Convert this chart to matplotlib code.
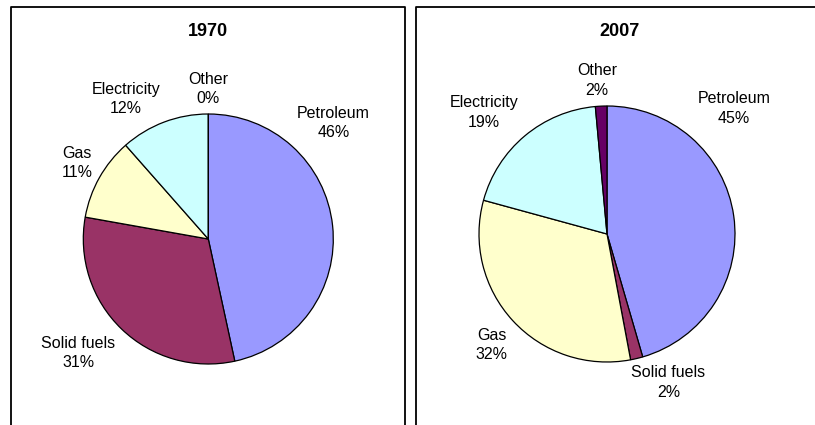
import matplotlib
matplotlib.use("Agg")
import matplotlib.pyplot as plt
from matplotlib.lines import Line2D

plt.rcParams['font.family'] = ['Liberation Sans', 'DejaVu Sans']

categories = ["Petroleum", "Solid fuels", "Gas", "Electricity", "Other"]
values_1970 = [46.6, 31.2, 10.7, 11.5, 0.0]
values_2007 = [45.5, 1.55, 32.2, 19.3, 1.45]
pct_1970 = ["46%", "31%", "11%", "12%", "0%"]
pct_2007 = ["45%", "2%", "32%", "19%", "2%"]
colors = ["#9999FF", "#993366", "#FFFFCC", "#CCFFFF", "#660066"]

# label positions in pie-radius units (Excel-like placement)
label_pos_1970 = [(1.0, 0.93), (-1.04, -0.91), (-1.05, 0.61), (-0.66, 1.12), (0.0, 1.2)]
label_pos_2007 = [(0.99, 0.98), (0.48, -1.16), (-0.90, -0.87), (-0.96, 0.95), (-0.08, 1.2)]

W, H = 815, 425
fig = plt.figure(figsize=(W / 100, H / 100), dpi=100)


def add_pie(cx, cy, r, vals, pcts, pos, title, title_x, title_y):
    ax = fig.add_axes([(cx - r) / W, (H - cy - r) / H, 2 * r / W, 2 * r / H])
    labels = [f"{c}\n{p}" for c, p in zip(categories, pcts)]
    wedges, texts = ax.pie(vals, labels=labels, colors=colors, startangle=90,
                           counterclock=False,
                           wedgeprops=dict(edgecolor="black", linewidth=0.9),
                           textprops=dict(fontsize=11.5, color="black"))
    for t, (x, y) in zip(texts, pos):
        t.set_position((x, y))
        t.set_ha("center")
        t.set_va("center")
        t.set_linespacing(1.35)
    ax.set_xlim(-1, 1)
    ax.set_ylim(-1, 1)
    ax.set_aspect("auto")
    ax.axis("off")
    fig.text(title_x / W, 1 - title_y / H, title, ha="center", va="center",
             fontsize=13, fontweight="bold")


add_pie(208.3, 239, 125, values_1970, pct_1970, label_pos_1970, "1970", 208, 32)
add_pie(607, 234, 128, values_2007, pct_2007, label_pos_2007, "2007", 620, 31)

# panel borders
lw = 1.3
def px_line(xs, ys):
    fig.add_artist(Line2D([x / W for x in xs], [1 - y / H for y in ys],
                          color="black", linewidth=lw))

px_line([10.5, 10.5, 404.5, 404.5], [430, 6.5, 6.5, 430])
px_line([416, 416, 820], [430, 6.5, 6.5])

fig.savefig("out.png", dpi=100)
